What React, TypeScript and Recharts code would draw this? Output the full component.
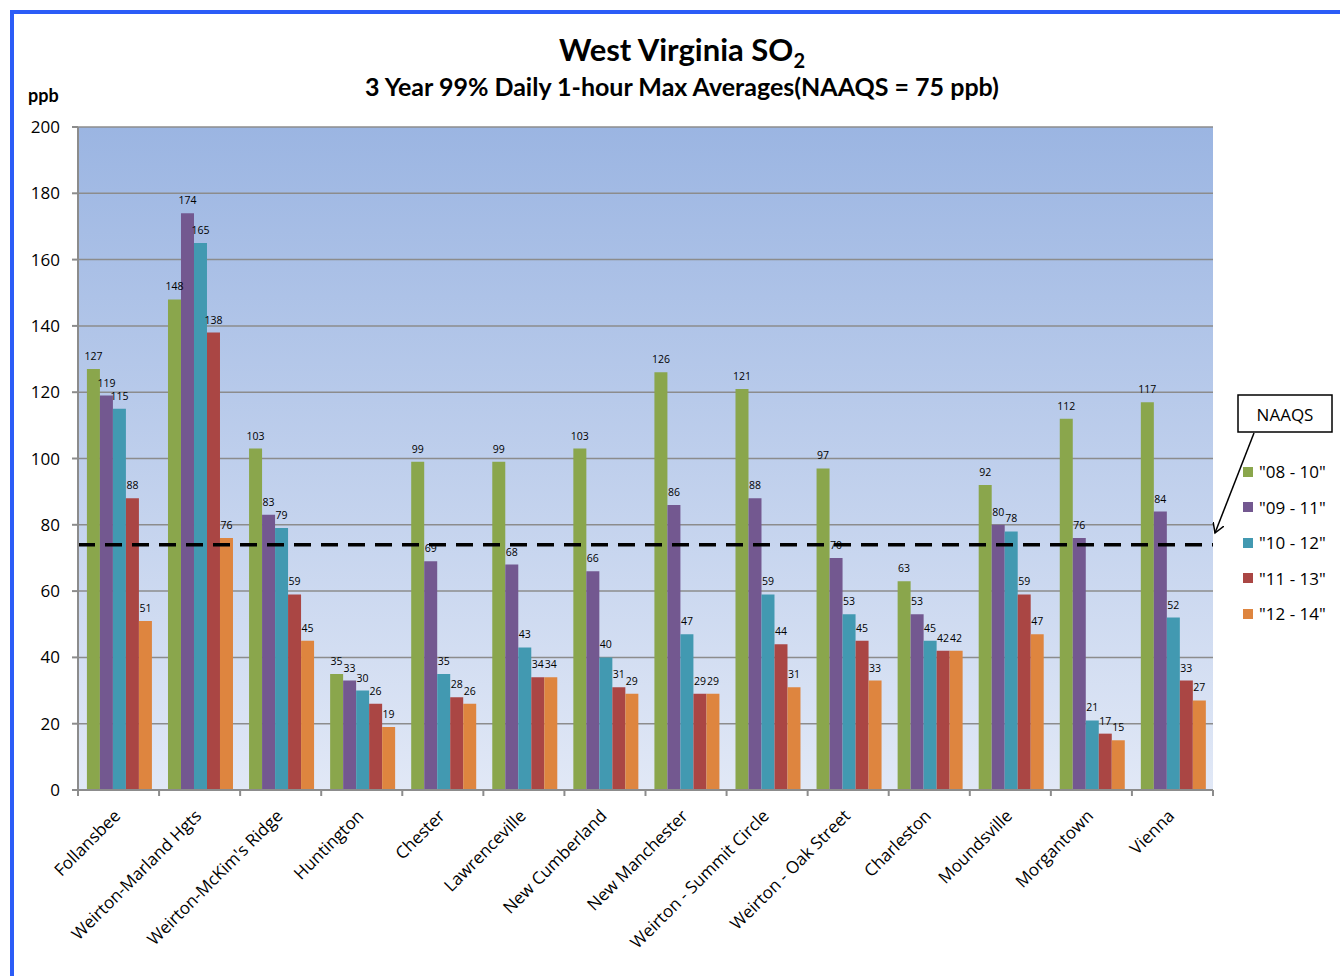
import React from 'react';
import { BarChart, Bar, XAxis, YAxis, CartesianGrid, ReferenceLine, LabelList, Legend } from 'recharts';

const categories = [
  'Follansbee',
  'Weirton-Marland Hgts',
  "Weirton-McKim's Ridge",
  'Huntington',
  'Chester',
  'Lawrenceville',
  'New Cumberland',
  'New Manchester',
  'Weirton - Summit Circle',
  'Weirton - Oak Street',
  'Charleston',
  'Moundsville',
  'Morgantown',
  'Vienna',
];

const s0810 = [127, 148, 103, 35, 99, 99, 103, 126, 121, 97, 63, 92, 112, 117];
const s0911 = [119, 174, 83, 33, 69, 68, 66, 86, 88, 70, 53, 80, 76, 84];
const s1012 = [115, 165, 79, 30, 35, 43, 40, 47, 59, 53, 45, 78, 21, 52];
const s1113 = [88, 138, 59, 26, 28, 34, 31, 29, 44, 45, 42, 59, 17, 33];
const s1214 = [51, 76, 45, 19, 26, 34, 29, 29, 31, 33, 42, 47, 15, 27];

const seriesNames = ['"08 - 10"', '"09 - 11"', '"10 - 12"', '"11 - 13"', '"12 - 14"'];
const seriesKeys = ['s0810', 's0911', 's1012', 's1113', 's1214'];
const seriesColors = ['#8aa64c', '#735890', '#4299b1', '#aa4644', '#de853f'];
const yTicks = [0, 20, 40, 60, 80, 100, 120, 140, 160, 180, 200];
const naaqsLevel = 74;

const data = categories.map((name, i) => ({
  name,
  s0810: s0810[i],
  s0911: s0911[i],
  s1012: s1012[i],
  s1113: s1113[i],
  s1214: s1214[i],
}));

const W = 1340;
const H = 976;
const Y_AXIS_W = 78;
const RIGHT = 127;
const TOP = 127;
const X_AXIS_H = 186;
const BAND = (W - Y_AXIS_W - RIGHT) / categories.length;
const FONT = "'Open Sans', 'DejaVu Sans', sans-serif";
const TITLE_FONT = "Lato, 'Open Sans', sans-serif";

const XTick = (props: any) => {
  const { x, y, payload, index } = props;
  const last = index === categories.length - 1;
  return (
    <g>
      <line x1={x - BAND / 2} y1={y} x2={x - BAND / 2} y2={y + 6} stroke="#8c8c8c" strokeWidth={2} />
      {last && <line x1={x + BAND / 2} y1={y} x2={x + BAND / 2} y2={y + 6} stroke="#8c8c8c" strokeWidth={2} />}
      <text
        x={x + 3}
        y={y + 27}
        transform={`rotate(-45, ${x + 3}, ${y + 27})`}
        textAnchor="end"
        fontSize={17}
        fontFamily={FONT}
        fill="#000"
      >
        {payload.value}
      </text>
    </g>
  );
};

const LegendContent = () => (
  <div style={{ fontFamily: FONT, fontSize: 17, color: '#000' }}>
    {seriesNames.map((n, i) => (
      <div key={n} style={{ display: 'flex', alignItems: 'center', height: 35.5 }}>
        <div style={{ width: 10, height: 10, background: seriesColors[i], marginRight: 6 }} />
        <span>{n}</span>
      </div>
    ))}
  </div>
);

export default function App() {
  return (
    <div style={{ position: 'absolute', left: 0, top: 0, width: W, height: H, background: '#fff', overflow: 'hidden' }}>
      <svg width={0} height={0} style={{ position: 'absolute' }}>
        <defs>
          <linearGradient id="plotGrad" x1="0" y1="0" x2="0" y2="1">
            <stop offset="0%" stopColor="#9bb5e2" />
            <stop offset="100%" stopColor="#e1e8f6" />
          </linearGradient>
        </defs>
      </svg>
      <BarChart
        width={W}
        height={H}
        data={data}
        margin={{ top: TOP, right: RIGHT, bottom: 0, left: 0 }}
        barCategoryGap="11%"
        barGap={0}
      >
        <CartesianGrid horizontal vertical={false} stroke="#8c8c8c" strokeWidth={1.5} fill="url(#plotGrad)" fillOpacity={1} />
        <XAxis
          dataKey="name"
          interval={0}
          height={X_AXIS_H}
          tickLine={false}
          tickSize={0}
          tickMargin={0}
          axisLine={{ stroke: '#8c8c8c', strokeWidth: 2 }}
          tick={<XTick />}
        />
        <YAxis
          width={Y_AXIS_W}
          domain={[0, 200]}
          ticks={yTicks}
          interval={0}
          tickSize={6}
          tickMargin={12}
          axisLine={{ stroke: '#8c8c8c', strokeWidth: 2 }}
          tickLine={{ stroke: '#8c8c8c', strokeWidth: 2 }}
          tick={{ fontSize: 17, fontFamily: FONT, fill: '#000' }}
        />
        {seriesKeys.map((k, i) => (
          <Bar key={k} dataKey={k} name={seriesNames[i]} fill={seriesColors[i]} isAnimationActive={false}>
            <LabelList dataKey={k} position="top" offset={9} fontSize={10.5} fontFamily={FONT} fill="#000" />
          </Bar>
        ))}
        <ReferenceLine y={naaqsLevel} stroke="#000" strokeWidth={3.5} strokeDasharray="17 10" />
        <Legend
          layout="vertical"
          verticalAlign="middle"
          align="center"
          content={<LegendContent />}
          wrapperStyle={{ position: 'absolute', left: 1243, top: 454, width: 100 }}
        />
      </BarChart>
      <svg width={W} height={H} style={{ position: 'absolute', left: 0, top: 0, pointerEvents: 'none' }}>
        <defs>
          <marker id="arrowHead" markerWidth="12" markerHeight="12" refX="10" refY="6" orient="auto" markerUnits="userSpaceOnUse">
            <path d="M0,0 L10,6 L0,12" fill="none" stroke="#000" strokeWidth={1.5} />
          </marker>
        </defs>
        <rect x={10} y={10} width={W - 10} height={4} fill="#2b5cf7" />
        <rect x={10} y={10} width={4} height={H - 10} fill="#2b5cf7" />
        <text x={682} y={61} textAnchor="middle" fontFamily={TITLE_FONT} fontWeight="bold" fontSize={31} fill="#000">
          West Virginia SO
          <tspan fontSize={20} dy={7}>2</tspan>
        </text>
        <text x={682} y={96} textAnchor="middle" fontFamily={TITLE_FONT} fontWeight="bold" fontSize={25} fill="#000">
          3 Year 99% Daily 1-hour Max Averages(NAAQS = 75 ppb)
        </text>
        <text x={28} y={102} fontFamily={TITLE_FONT} fontWeight="bold" fontSize={18} fill="#000">ppb</text>
        <rect x={1238} y={395} width={94} height={37} fill="#fff" stroke="#000" strokeWidth={1.5} />
        <text x={1285} y={421} textAnchor="middle" fontFamily={FONT} fontSize={17} fill="#000">NAAQS</text>
        <line x1={1254} y1={433} x2={1215} y2={533} stroke="#000" strokeWidth={1.5} markerEnd="url(#arrowHead)" />
      </svg>
    </div>
  );
}
